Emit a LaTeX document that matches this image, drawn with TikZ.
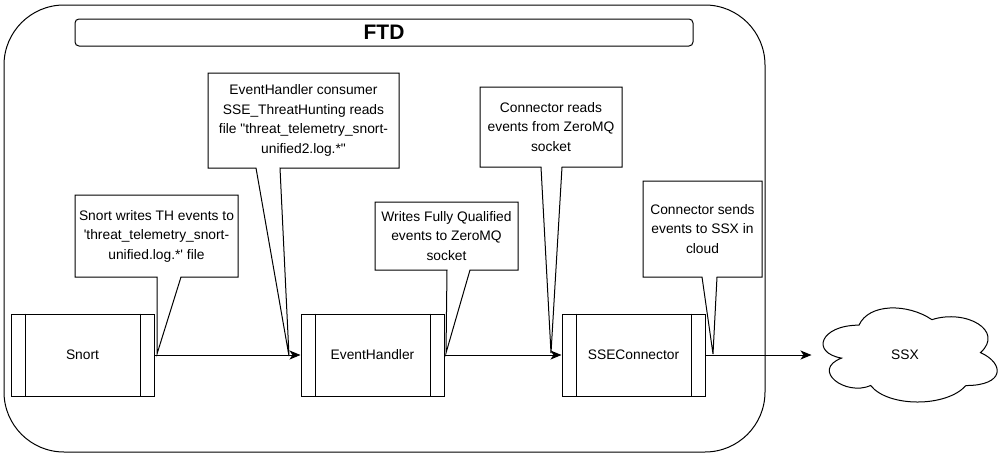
\documentclass[tikz,border=0pt]{standalone}
\usepackage{fontspec}
\setmainfont{Liberation Sans}
\usetikzlibrary{arrows.meta,calc}
\begin{document}
\begin{tikzpicture}[x=1pt,y=-1pt, line width=1pt, line join=miter,
  every node/.style={font=\fontsize{13.8}{19.5}\selectfont},
  procbox/.style={draw, minimum width=143pt, minimum height=82pt, inner sep=0pt},
  calltext/.style={draw=none, inner sep=0pt, align=center},
  flow/.style={-{Stealth[length=11pt,width=9pt,inset=3pt]}},
  calloutline/.style={draw, fill=white}]
\useasboundingbox (0,0) rectangle (999,458);

% FTD container
\node[draw, rounded corners=60pt, minimum width=761pt, minimum height=447pt, inner sep=0pt] (ftdbox) at (384.5,228.5) {};
\node[draw, rounded corners=4pt, minimum width=618pt, minimum height=27pt, inner sep=0pt,
      font=\bfseries\fontsize{21}{25}\selectfont] (ftd) at (384,32.5) {FTD};

% process boxes
\node[procbox] (snort) at (82.5,355) {Snort};
\node[procbox] (eh) at (372.5,355) {EventHandler};
\node[procbox] (sse) at (633.5,355) {SSEConnector};
\foreach \n in {snort,eh,sse}{
  \draw ([xshift=14.5pt]\n.north west) -- ([xshift=14.5pt]\n.south west);
  \draw ([xshift=-14pt]\n.north east) -- ([xshift=-14pt]\n.south east);
}

% cloud
\begin{scope}[shift={(810.4,297.7)}, x=194.4pt, y=-109.8pt]
\draw (0.25,0.25) .. controls (0.05,0.25) and (0,0.5) .. (0.16,0.55)
  .. controls (0,0.66) and (0.18,0.9) .. (0.31,0.8)
  .. controls (0.4,1) and (0.7,1) .. (0.8,0.8)
  .. controls (1,0.8) and (1,0.6) .. (0.875,0.5)
  .. controls (1,0.3) and (0.8,0.1) .. (0.625,0.2)
  .. controls (0.5,0.05) and (0.3,0.05) .. (0.25,0.25) -- cycle;
\end{scope}
\node[minimum width=186pt, minimum height=110pt, inner sep=0pt] (ssx) at (905,355) {SSX};

% flows
\draw[flow] (snort) -- (eh);
\draw[flow] (eh) -- (sse);
\draw[flow] (sse) -- (ssx);

% callouts
\coordinate (t1) at (157,354);
\coordinate (t2) at (289,356);
\coordinate (t3) at (446,353);
\coordinate (t4) at (551,353);
\coordinate (t5) at (713,354);

\path[calloutline] (75,195) -- (238,195) -- (238,277) -- (181,277) -- (t1) -- (157,277) -- (75,277) -- cycle;
\node[calltext] (c1) at (156.5,236) {Snort writes TH events to\\ \textquotesingle threat\_telemetry\_snort-\\ unified.log.*\textquotesingle{} file};

\path[calloutline] (208,73) -- (399,73) -- (399,168) -- (280,168) -- (t2) -- (256,168) -- (208,168) -- cycle;
\node[calltext] (c2) at (303.5,120.5) {EventHandler consumer\\ SSE\_ThreatHunting reads\\ file \textquotedbl threat\_telemetry\_snort-\\ unified2.log.*\textquotedbl};

\path[calloutline] (375,202) -- (518,202) -- (518,270) -- (470,270) -- (t3) -- (447,270) -- (375,270) -- cycle;
\node[calltext] (c3) at (446.5,236) {Writes Fully Qualified\\ events to ZeroMQ\\ socket};

\path[calloutline] (480,87) -- (622,87) -- (622,167) -- (562,167) -- (t4) -- (541,167) -- (480,167) -- cycle;
\node[calltext] (c4) at (551,127) {Connector reads\\ events from ZeroMQ\\ socket};

\path[calloutline] (643,181) -- (762,181) -- (762,277) -- (717,277) -- (t5) -- (702,277) -- (643,277) -- cycle;
\node[calltext] (c5) at (702.5,229) {Connector sends\\ events to SSX in\\ cloud};
\end{tikzpicture}
\end{document}
